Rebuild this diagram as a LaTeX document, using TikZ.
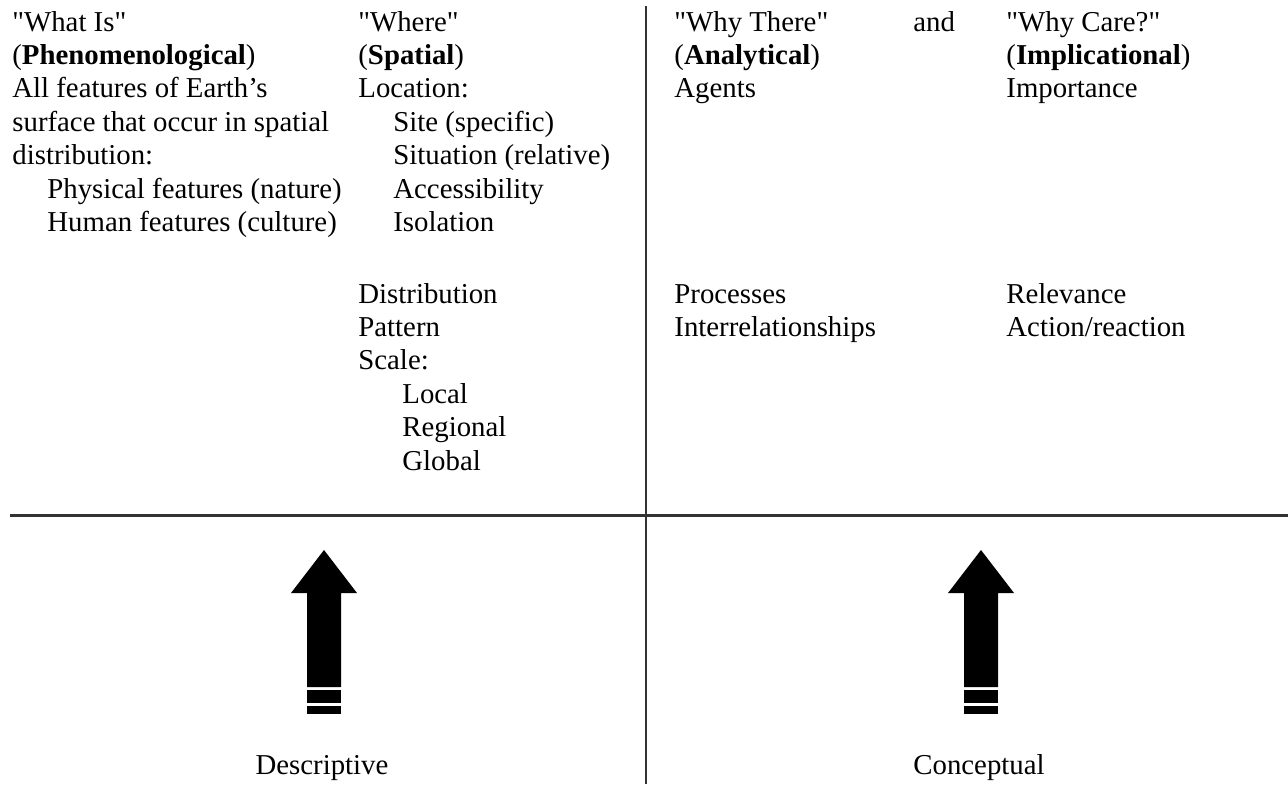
\documentclass[tikz,border=0pt]{standalone}
\usepackage{fontspec}
\setmainfont{Liberation Serif}[Ligatures=TeXOff]
\definecolor{rulegray}{HTML}{333333}
\tikzset{
  col/.style={anchor=base west, inner sep=0pt},
  lbl/.style={anchor=base, inner sep=0pt},
  rule/.style={draw=rulegray},
}
% indents inside the columns
\newcommand{\ind}{\hspace*{17.5pt}}
\newcommand{\indd}{\hspace*{22pt}}
\newcommand{\colbox}[1]{\begin{tabular}[t]{@{}l@{}}#1\end{tabular}}

\begin{document}
\begin{tikzpicture}[x=0.5pt,y=-0.5pt,font=\fontsize{14.4}{16.7}\selectfont]
  \useasboundingbox (0,0) rectangle (1288,784);
  % quadrant rules
  \draw[rule,line width=1.5pt] (10,515) -- (1288,515);
  \draw[rule,line width=1pt] (645.5,6) -- (645.5,784);

  % upper left
  \node[col] (whatis) at (12,31) {\colbox{"What Is"\\(\textbf{Phenomenological})\\All features of Earth’s\\surface that occur in spatial\\distribution:\\\ind Physical features (nature)\\\ind Human features (culture)}};
  \node[col] (where) at (358,31) {\colbox{"Where"\\(\textbf{Spatial})\\Location:\\\ind Site (specific)\\\ind Situation (relative)\\\ind Accessibility\\\ind Isolation}};
  \node[col] (distrib) at (358,303) {\colbox{Distribution\\Pattern\\Scale:\\\indd Local\\\indd Regional\\\indd Global}};

  % upper right
  \node[col] (whythere) at (674,31) {\colbox{"Why There"\\(\textbf{Analytical})\\Agents}};
  \node[col] (and) at (913,31) {and};
  \node[col] (whycare) at (1006,31) {\colbox{"Why Care?"\\(\textbf{Implicational})\\Importance}};
  \node[col] (process) at (674,303) {\colbox{Processes\\Interrelationships}};
  \node[col] (relevance) at (1006,303) {\colbox{Relevance\\Action/reaction}};

  % block arrows
  \foreach \x in {324,981} {
    \fill (\x,550) -- (\x+33,593) -- (\x+17,593) -- (\x+17,687)
      -- (\x-17,687) -- (\x-17,593) -- (\x-33,593) -- cycle;
    \fill (\x-17,690) rectangle (\x+17,703);
    \fill (\x-17,706) rectangle (\x+17,714);
  }
  \node[lbl] (descriptive) at (322,774) {Descriptive};
  \node[lbl] (conceptual) at (979,774) {Conceptual};
\end{tikzpicture}
\end{document}
